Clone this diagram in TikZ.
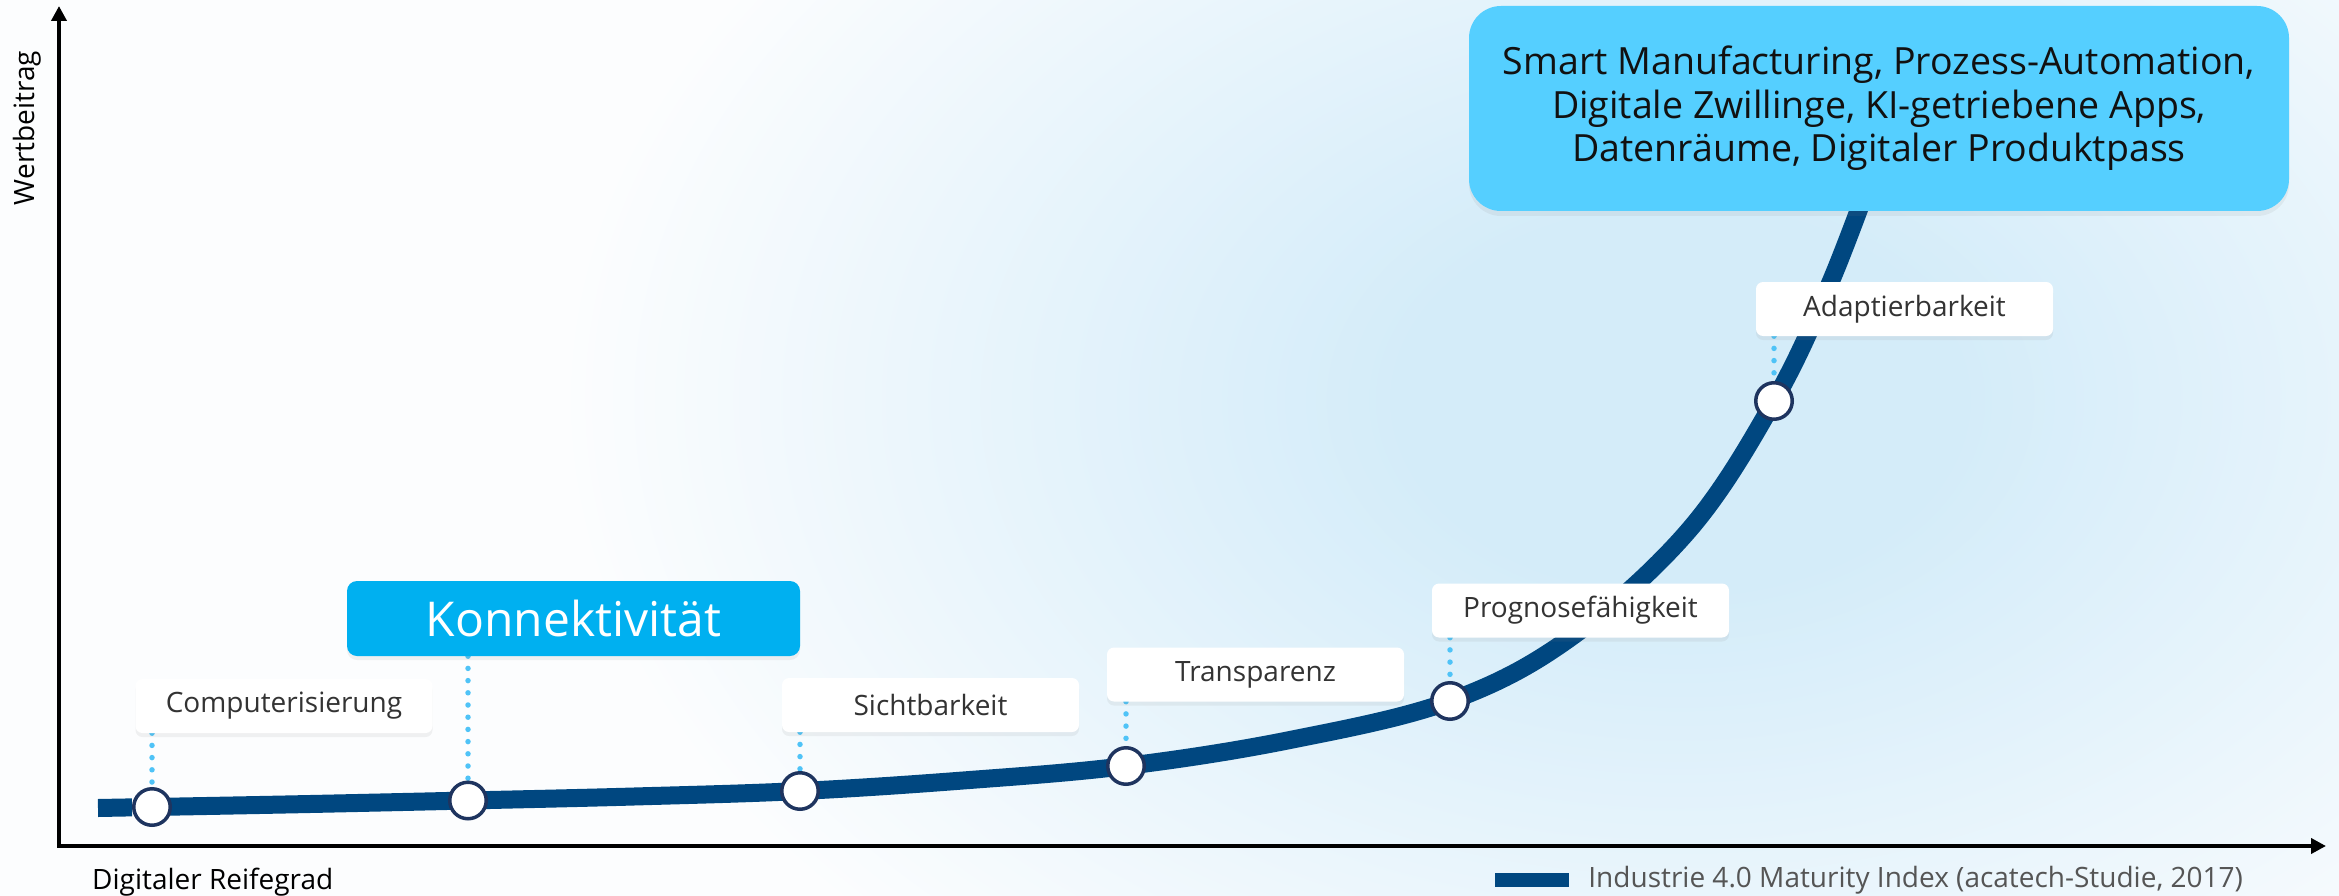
\documentclass[tikz,border=0pt]{standalone}
\usepackage{fontspec}
\setmainfont{Open Sans}
\usetikzlibrary{arrows.meta,shadows,calc}
\definecolor{navy}{RGB}{0,71,128}
\definecolor{ringc}{RGB}{30,52,95}
\definecolor{dotc}{RGB}{79,195,247}
\definecolor{konc}{RGB}{0,176,240}
\definecolor{topc}{RGB}{85,207,255}
\definecolor{txtc}{RGB}{51,51,51}
\definecolor{legc}{RGB}{85,85,85}
\definecolor{glowc}{RGB}{212,236,249}
\definecolor{bgc}{RGB}{252,253,254}
\pgfdeclareradialshading{glowshade}{\pgfpointorigin}{color(0bp)=(glowc); color(5bp)=(glowc); color(20bp)=(bgc); color(25bp)=(bgc); color(50bp)=(bgc)}
\pgfdeclarelayer{back}
\pgfdeclarelayer{mid}
\pgfsetlayers{back,mid,main}
\begin{document}
\begin{tikzpicture}[x=1pt,y=-1pt,
  labelbox/.style={fill=white, rounded corners=7pt, minimum width=297pt, minimum height=54pt,
    inner sep=0pt, font=\fontsize{28}{34}\selectfont, text=txtc,
    drop shadow={opacity=0.10, shadow xshift=0pt, shadow yshift=-4pt}},
  konbox/.style={fill=konc, rounded corners=10pt, minimum width=453pt, minimum height=75pt,
    inner sep=0pt, font=\fontsize{48}{58}\selectfont, text=white,
    drop shadow={opacity=0.10, shadow xshift=0pt, shadow yshift=-4pt}},
  topbox/.style={fill=topc, rounded corners=32pt, minimum width=820pt, minimum height=205pt,
    inner sep=0pt, align=center, font=\fontsize{37.5}{43.5}\selectfont, text={rgb,255:red,17;green,17;blue,17},
    drop shadow={opacity=0.10, shadow xshift=0pt, shadow yshift=-5pt}},
  ring/.style={circle, draw=ringc, line width=3.5pt, fill=white, minimum size=36.5pt, inner sep=0pt},
  dotline/.style={dotc, line width=5.5pt, line cap=round, dash pattern=on 0pt off 12.2pt},
  axisline/.style={line width=4pt, line join=miter,
    {Triangle[width=15pt,length=15pt]}-{Triangle[width=15pt,length=15pt]}},
  smalltext/.style={font=\fontsize{28}{34}\selectfont, text=black},
  curveline/.style={navy, line width=18pt, line cap=butt},
]
\useasboundingbox (0,0) rectangle (2339,896);

% points on the curve
\node[ring] (c1) at (152,807) {};
\node[ring] (c2) at (468,800.5) {};
\node[ring] (c3) at (800,791) {};
\node[ring] (c4) at (1126,766) {};
\node[ring] (c5) at (1450,701) {};
\node[ring] (c6) at (1774,401) {};

% labels
\node[labelbox] (b1) at (284,706) {Computerisierung};
\node[konbox] (b2) at (573.5,618.5) {Konnektivität};
\node[labelbox] (b3) at (930.5,705) {Sichtbarkeit};
\node[labelbox] (b4) at (1255.5,674.5) {Transparenz};
\node[labelbox] (b5) at (1580.5,610.5) {Prognosefähigkeit};
\node[labelbox] (b6) at (1904.5,309) {Adaptierbarkeit};
\node[topbox] (top) at (1879,108.5) {Smart Manufacturing, Prozess-Automation,\\Digitale Zwillinge, KI-getriebene Apps,\\Datenräume, Digitaler Produktpass};

% axis labels
\node[smalltext, rotate=90] (ylab) at (27,128) {Wertbeitrag};
\node[smalltext, anchor=base west, inner sep=0pt] (xlab) at (92,889) {Digitaler Reifegrad};

% legend
\node[fill=navy, minimum width=74pt, minimum height=14pt, inner sep=0pt] (legsq) at (1532,880) {};
\node[anchor=west, inner sep=0pt, font=\fontsize{28}{33}\selectfont, text=legc] (legtxt)
  at ([xshift=19pt]legsq.east) {Industrie 4.0 Maturity Index (acatech-Studie, 2017)};

% axes and curve coordinates
\coordinate (O) at (59,846);
\coordinate (ytop) at (59,6);
\coordinate (xend) at (2326,846);
\coordinate (p0) at (98,808);
\coordinate (m1) at (310,804);
\coordinate (m2) at (634,796.5);
\coordinate (m3) at (963,780.5);
\coordinate (m4) at (1290,740);
\coordinate (q1) at (1570,638);
\coordinate (q3) at (1689,530);
\coordinate (q6) at (1831,281);
\coordinate (q8) at (1880,152);

\begin{pgfonlayer}{back}
  \fill[bgc] (0,0) rectangle (2339,896);
  \begin{scope}
    \clip (0,0) rectangle (2339,896);
    \shade[shading=glowshade] (1680,400) ellipse [x radius=1400, y radius=950];
  \end{scope}
  \draw[axisline] (ytop) -- (O) -- (xend);
\end{pgfonlayer}

\begin{pgfonlayer}{mid}
  \draw[curveline] (p0) -- (c1);
  \draw[curveline] plot[smooth, tension=0.6] coordinates
    {(c1) (m1) (c2) (m2) (c3) (m3) (c4) (m4) (c5) (q1) (q3) (c6) (q6) (q8)};
  \draw[dotline] (c1 |- b1.south) -- (c1.north);
  \draw[dotline] (c2 |- b2.south) -- (c2.north);
  \draw[dotline] (c3 |- b3.south) -- (c3.north);
  \draw[dotline] (c4 |- b4.south) -- (c4.north);
  \draw[dotline] (c5 |- b5.south) -- (c5.north);
  \draw[dotline] (c6 |- b6.south) -- (c6.north);
\end{pgfonlayer}
\end{tikzpicture}
\end{document}
